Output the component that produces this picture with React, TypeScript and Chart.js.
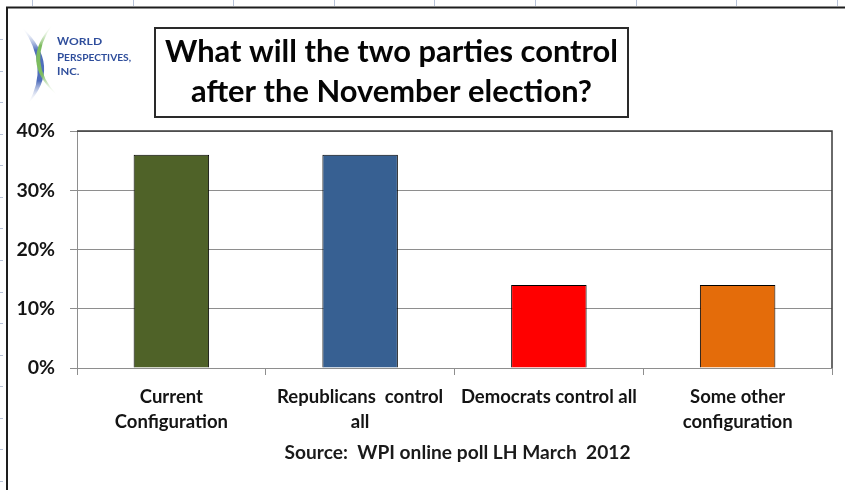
import React, { useEffect, useRef } from "react";
import { Chart, registerables } from "chart.js";

Chart.register(...registerables);

const categories: string[][] = [
  ["Current", "Configuration"],
  ["Republicans  control", "all"],
  ["Democrats control all"],
  ["Some other", "configuration"],
];
const values: number[] = [36, 36, 14, 14];
const barColors: string[] = ["#4F6228", "#376092", "#FF0000", "#E46C0A"];
const yTickValues: number[] = [0, 10, 20, 30, 40];
const titleLines: string[] = ["What will the two parties control", "after the November election?"];
const sourceText = "Source:  WPI online poll LH March  2012";
const logoLines: string[] = ["WORLD", "PERSPECTIVES,", "INC."];

const FONT = "Lato, 'Open Sans', sans-serif";

const decor = {
  id: "decor",
  beforeDraw(chart: any) {
    const ctx = chart.ctx as CanvasRenderingContext2D;
    ctx.save();
    ctx.fillStyle = "#ffffff";
    ctx.fillRect(0, 0, chart.width, chart.height);
    // spreadsheet gridline stubs
    ctx.strokeStyle = "#b7c2d8";
    ctx.lineWidth = 1;
    ctx.beginPath();
    for (let x = 32; x < chart.width; x += 100.6) {
      const px = Math.round(x) + 0.5;
      ctx.moveTo(px, 0);
      ctx.lineTo(px, 6);
    }
    for (let y = 39; y <= 482; y += 31.57) {
      const py = Math.round(y) + 0.5;
      ctx.moveTo(0, py);
      ctx.lineTo(3, py);
    }
    ctx.stroke();
    // outer frame
    ctx.strokeStyle = "#1e1e1e";
    ctx.lineWidth = 2;
    ctx.beginPath();
    ctx.moveTo(7, chart.height);
    ctx.lineTo(7, 7.5);
    ctx.lineTo(chart.width, 7.5);
    ctx.stroke();
    ctx.restore();
  },
  afterDraw(chart: any) {
    const ctx = chart.ctx as CanvasRenderingContext2D;
    const a = chart.chartArea;
    ctx.save();
    // plot area top & right border
    ctx.strokeStyle = "#3a3a3a";
    ctx.lineWidth = 1.5;
    ctx.beginPath();
    ctx.moveTo(a.left, a.top);
    ctx.lineTo(a.right, a.top);
    ctx.lineTo(a.right, a.bottom);
    ctx.stroke();

    // title box
    ctx.strokeStyle = "#2a2a2a";
    ctx.lineWidth = 2;
    ctx.strokeRect(155, 28, 473, 89);
    ctx.fillStyle = "#050505";
    ctx.font = `bold 30px ${FONT}`;
    ctx.textAlign = "center";
    ctx.textBaseline = "alphabetic";
    const w1 = ctx.measureText(titleLines[0]).width;
    const sx = 453 / w1;
    const cx = 391.5;
    titleLines.forEach((line, i) => {
      ctx.save();
      ctx.translate(cx, 62 + i * 40);
      ctx.scale(sx, 1);
      ctx.fillText(line, 0, 0);
      ctx.restore();
    });

    // source
    ctx.font = `bold 18px ${FONT}`;
    ctx.fillStyle = "#1a1a1a";
    ctx.textBaseline = "middle";
    const sw = ctx.measureText(sourceText).width;
    ctx.save();
    ctx.translate((a.left + a.right) / 2 + 3, 453);
    ctx.scale(346 / sw, 1);
    ctx.fillText(sourceText, 0, 0);
    ctx.restore();

    // logo arcs
    const crescent = (x0: number, y0: number, x1: number, y1: number, c1x: number, c2x: number, cy: number, color: string) => {
      const g = ctx.createLinearGradient(0, Math.min(y0, y1), 0, Math.max(y0, y1));
      g.addColorStop(0, "rgba(255,255,255,0)");
      g.addColorStop(0.3, color);
      g.addColorStop(0.7, color);
      g.addColorStop(1, "rgba(255,255,255,0)");
      ctx.fillStyle = g;
      ctx.beginPath();
      ctx.moveTo(x0, y0);
      ctx.quadraticCurveTo(c1x, cy, x1, y1);
      ctx.quadraticCurveTo(c2x, cy, x0, y0);
      ctx.fill();
    };
    crescent(22, 27, 28, 104, 63, 50, 66, "rgba(80,110,188,1)");
    crescent(53, 24, 58, 96, 17, 25, 62, "rgba(125,188,95,1)");

    // logo text (small caps)
    ctx.fillStyle = "#2f4e9c";
    ctx.textAlign = "left";
    ctx.textBaseline = "alphabetic";
    const baselines = [45, 60.5, 75];
    const restWidths = [33, 67, 19];
    logoLines.forEach((line, i) => {
      let x = 57;
      const first = line.charAt(0);
      const rest = line.slice(1);
      ctx.font = `bold 11.5px ${FONT}`;
      ctx.fillText(first, x, baselines[i]);
      x += ctx.measureText(first).width;
      ctx.font = `bold 8.5px ${FONT}`;
      const rw = ctx.measureText(rest).width;
      ctx.save();
      ctx.translate(x, baselines[i]);
      ctx.scale(restWidths[i] / rw, 1);
      ctx.fillText(rest, 0, 0);
      ctx.restore();
    });
    ctx.restore();
  },
};

export default function App() {
  const ref = useRef<HTMLCanvasElement | null>(null);
  useEffect(() => {
    if (!ref.current) return;
    const chart = new Chart(ref.current, {
      type: "bar",
      data: {
        labels: categories,
        datasets: [
          {
            data: values,
            backgroundColor: barColors,
            borderColor: "#000000",
            borderWidth: 1,
            categoryPercentage: 1,
            barPercentage: 0.4,
          },
        ],
      },
      options: {
        responsive: false,
        animation: false,
        devicePixelRatio: 1,
        layout: { padding: { left: 0, right: 13, top: 131, bottom: 0 } },
        plugins: { legend: { display: false }, title: { display: false }, tooltip: { enabled: false } },
        scales: {
          x: {
            grid: { drawOnChartArea: false, drawTicks: true, tickLength: 7, color: "#8e8e8e", offset: true },
            border: { color: "#8e8e8e", width: 1 },
            ticks: {
              color: "#141414",
              font: { family: FONT, weight: "bold", size: 18.5, lineHeight: "25px" } as any,
              padding: 10,
              maxRotation: 0,
              autoSkip: false,
            },
            afterFit: (s: any) => {
              s.height = 122;
            },
          },
          y: {
            min: 0,
            max: 40,
            afterBuildTicks: (s: any) => {
              s.ticks = yTickValues.map((v) => ({ value: v }));
            },
            grid: { color: "#8e8e8e", tickLength: 7, drawTicks: true },
            border: { color: "#8e8e8e", width: 1 },
            ticks: {
              color: "#141414",
              font: { family: FONT, weight: "bold", size: 19.5 },
              padding: 15,
              callback: (v: any) => `${v}%`,
            },
            afterFit: (s: any) => {
              s.width = 77;
            },
          },
        },
      },
      plugins: [decor],
    });
    return () => chart.destroy();
  }, []);
  return (
    <div style={{ position: "absolute", left: 0, top: 0, width: 845, height: 490, background: "#fff" }}>
      <canvas ref={ref} width={845} height={490} style={{ display: "block" }} />
    </div>
  );
}
